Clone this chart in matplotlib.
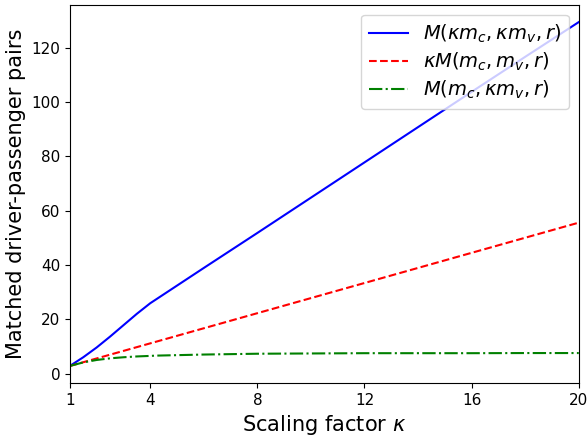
import matplotlib
matplotlib.use("Agg")
import matplotlib.pyplot as plt

# Scaling factor samples
kappa = [1, 1.5, 2, 2.5, 3, 3.5, 4, 4.2, 6, 8, 10, 12, 14, 16, 18, 20]

# Matched pairs when both drivers and passengers are scaled
m_both = [2.8, 6.0, 9.6, 13.6, 17.8, 22.0, 25.9, 27.2, 38.9, 51.8, 64.8, 77.8, 90.8, 103.8, 116.7, 129.5]
# Base matches scaled linearly
m_linear = [2.78 * k for k in kappa]
# Matched pairs when only passengers are scaled
m_pass = [2.8, 4.1, 5.0, 5.6, 6.0, 6.3, 6.5, 6.6, 7.0, 7.3, 7.4, 7.5, 7.5, 7.5, 7.55, 7.55]

fig, ax = plt.subplots(figsize=(5.87, 4.43), dpi=100)
fig.subplots_adjust(left=0.119, right=0.986, top=0.989, bottom=0.135)
lw = 1.5
ax.plot(kappa, m_both, color="blue", linestyle="-", lw=lw, label=r"$M(\kappa m_c, \kappa m_v, r)$")
ax.plot(kappa, m_linear, color="red", linestyle="--", lw=lw, label=r"$\kappa M(m_c, m_v, r)$")
ax.plot(kappa, m_pass, color="green", linestyle="-.", lw=lw, label=r"$M(m_c, \kappa m_v, r)$")

ax.set_xlim(1, 20)
ax.set_xticks([1, 4, 8, 12, 16, 20])
ax.set_yticks([0, 20, 40, 60, 80, 100, 120])
ax.tick_params(labelsize=11)
ax.set_xlabel(r"Scaling factor $\kappa$", fontsize=15)
ax.set_ylabel("Matched driver-passenger pairs", fontsize=15)
ax.legend(fontsize=14, loc="upper right", labelspacing=0.3)

fig.savefig("out.png", dpi=100)
